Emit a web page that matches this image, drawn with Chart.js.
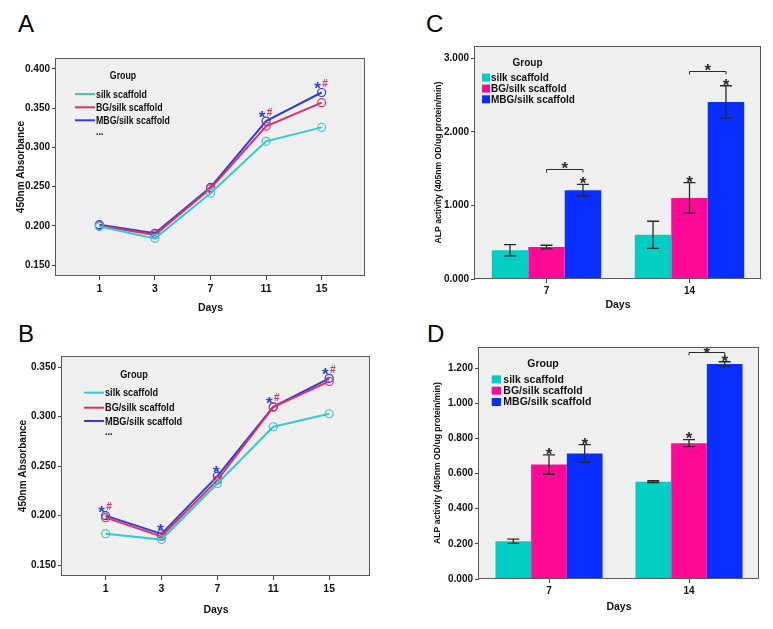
<!DOCTYPE html>
<html>
<head>
<meta charset="utf-8">
<script src="https://cdn.jsdelivr.net/npm/chart.js@4.4.1/dist/chart.umd.min.js"></script>
<style>
html, body { margin: 0; padding: 0; background: #fff; }
body { width: 773px; height: 629px; position: relative; overflow: hidden; }
canvas { position: absolute; }
.tag { position: absolute; font: 24px "Liberation Sans", Arial, sans-serif; line-height: 24px; color: #000; }
</style>
</head>
<body>
<div class="tag" style="left:18px;top:12px">A</div>
<div class="tag" style="left:18px;top:322px">B</div>
<div class="tag" style="left:426px;top:12px">C</div>
<div class="tag" style="left:427px;top:322px">D</div>
<canvas id="chartA" width="385" height="320" style="left:0;top:0"></canvas>
<canvas id="chartB" width="385" height="319" style="left:0;top:310px"></canvas>
<canvas id="chartC" width="383" height="320" style="left:390px;top:0"></canvas>
<canvas id="chartD" width="383" height="319" style="left:390px;top:310px"></canvas>
<script>
// ---- data ----
const groups = ['silk scaffold', 'BG/silk scaffold', 'MBG/silk scaffold'];
const daysLine = ['1', '3', '7', '11', '15'];
const daysBar = ['7', '14'];

// A - 450nm absorbance
const absA_silk = [0.199, 0.184, 0.2415, 0.3077, 0.3255];
const absA_bg   = [0.200, 0.1885, 0.2475, 0.327, 0.357];
const absA_mbg  = [0.2015, 0.1905, 0.249, 0.3335, 0.370];
const marksA = ['', '', '', '*#', '*#'];
const ticksA = [0.150, 0.200, 0.250, 0.300, 0.350, 0.400];

// B - 450nm absorbance
const absB_silk = [0.1818, 0.1758, 0.2325, 0.2899, 0.3030];
const absB_bg   = [0.198, 0.179, 0.236, 0.3097, 0.3357];
const absB_mbg  = [0.200, 0.1815, 0.240, 0.310, 0.3388];
const marksB = ['*#', '*', '*', '*#', '*#'];
const ticksB = [0.150, 0.200, 0.250, 0.300, 0.350];

// C - ALP activity
const alpC_silk = [0.390, 0.600];
const alpC_bg   = [0.434, 1.102];
const alpC_mbg  = [1.206, 2.407];
const errC_silk = [0.077, 0.185];
const errC_bg   = [0.025, 0.207];
const errC_mbg  = [0.080, 0.220];
const starsC = [['', ''], ['', '*'], ['*', '*']];
const bracketC = [true, true];
const ticksC = [0, 1, 2, 3];

// D - ALP activity
const alpD_silk = [0.215, 0.554];
const alpD_bg   = [0.651, 0.773];
const alpD_mbg  = [0.714, 1.223];
const errD_silk = [0.012, 0.005];
const errD_bg   = [0.055, 0.020];
const errD_mbg  = [0.050, 0.013];
const starsD = [['', ''], ['*', '*'], ['*', '*']];
const bracketD = [false, true];
const ticksD = [0, 0.2, 0.4, 0.6, 0.8, 1.0, 1.2];

// ---- look ----
const lineColors = ['#36CACA', '#E02D6E', '#2D3FCF'];
const barColors = ['#00CDC4', '#FF0A96', '#0A2EFF'];
const SANS = '"Liberation Sans", Arial, sans-serif';

// plot box: grey fill + dark frame
function framePlugin() {
    return {
        id: 'frame',
        beforeDraw(chart) {
            const { ctx, chartArea: a } = chart;
            ctx.save();
            ctx.fillStyle = '#EFEFEF';
            ctx.fillRect(a.left, a.top, a.right - a.left, a.bottom - a.top);
            ctx.restore();
        },
        afterDraw(chart) {
            const { ctx, chartArea: a } = chart;
            ctx.save();
            ctx.strokeStyle = '#5a5a5a';
            ctx.lineWidth = 1;
            ctx.strokeRect(Math.round(a.left) - 0.5, Math.round(a.top) + 0.5, Math.round(a.right - a.left), Math.round(a.bottom - a.top) - 1);
            ctx.restore();
        }
    };
}

// legend inside the plot box (sx squeezes the text like a narrow font)
function legendPlugin(cfg) {
    const sx = cfg.squeeze || 1;
    const text = (ctx, s, x, y) => {
        ctx.save();
        ctx.translate(x, y);
        ctx.scale(sx, 1);
        ctx.fillText(s, 0, 0);
        ctx.restore();
    };
    return {
        id: 'groupLegend',
        afterDraw(chart) {
            const { ctx, chartArea: a } = chart;
            ctx.save();
            ctx.fillStyle = '#111';
            ctx.font = cfg.font;
            ctx.textBaseline = 'middle';
            ctx.textAlign = 'center';
            text(ctx, 'Group', a.left + cfg.gx, a.top + cfg.gy);
            ctx.textAlign = 'left';
            chart.data.datasets.forEach((ds, i) => {
                const y = a.top + cfg.rows[i];
                if (cfg.box) {
                    ctx.fillStyle = ds.backgroundColor;
                    ctx.fillRect(a.left + cfg.sx0, y - 4, cfg.sx1 - cfg.sx0, 8);
                } else {
                    ctx.strokeStyle = ds.borderColor;
                    ctx.lineWidth = 2;
                    ctx.beginPath();
                    ctx.moveTo(a.left + cfg.sx0, y);
                    ctx.lineTo(a.left + cfg.sx1, y);
                    ctx.stroke();
                }
                ctx.fillStyle = '#111';
                text(ctx, ds.label, a.left + cfg.tx, y + 0.5);
            });
            if (cfg.dots) {
                text(ctx, '...', a.left + cfg.tx, a.top + cfg.dots);
            }
            ctx.restore();
        }
    };
}

// * and # over line points
function markPlugin(marks) {
    return {
        id: 'marks',
        afterDraw(chart) {
            const { ctx } = chart;
            const ys = chart.scales.y, xs = chart.scales.x;
            ctx.save();
            marks.forEach((m, i) => {
                if (!m) return;
                const top = Math.max(...chart.data.datasets.map(d => d.data[i].y));
                const px = xs.getPixelForValue(i);
                const py = ys.getPixelForValue(top);
                ctx.textAlign = 'center';
                ctx.textBaseline = 'alphabetic';
                if (m.includes('*')) {
                    ctx.fillStyle = '#2D3FCF';
                    ctx.font = 'bold 17px ' + SANS;
                    const dx = m.includes('#') ? -4 : -1;
                    ctx.fillText('*', px + dx, py - 8 + 0.58 * 17);
                }
                if (m.includes('#')) {
                    ctx.fillStyle = '#E02D6E';
                    ctx.font = 'bold 10px ' + SANS;
                    ctx.fillText('#', px + 3.5, py - 9 + 3.6);
                }
            });
            ctx.restore();
        }
    };
}

// error bars, stars and brackets on bar charts
function barExtrasPlugin(errs, stars, brackets, br) {
    return {
        id: 'barExtras',
        afterDatasetsDraw(chart) {
            const { ctx } = chart;
            const ys = chart.scales.y;
            ctx.save();
            ctx.strokeStyle = '#2a2a2a';
            ctx.fillStyle = '#2a2a2a';
            ctx.lineWidth = 1.3;
            const starAt = (x, cy) => {
                ctx.font = 'bold 17px ' + SANS;
                ctx.textAlign = 'center';
                ctx.textBaseline = 'alphabetic';
                ctx.fillText('*', x, cy + 0.58 * 17);
            };
            chart.data.datasets.forEach((ds, d) => {
                const meta = chart.getDatasetMeta(d);
                meta.data.forEach((el, i) => {
                    const v = ds.data[i], e = errs[d][i];
                    const yt = ys.getPixelForValue(v + e), yb = ys.getPixelForValue(v - e);
                    ctx.beginPath();
                    ctx.moveTo(el.x, yt); ctx.lineTo(el.x, yb);
                    ctx.moveTo(el.x - 6, yt); ctx.lineTo(el.x + 6, yt);
                    ctx.moveTo(el.x - 6, yb); ctx.lineTo(el.x + 6, yb);
                    ctx.stroke();
                    if (stars[d][i]) starAt(el.x, yt - 5);
                });
            });
            brackets.forEach((on, i) => {
                if (!on) return;
                const b = chart.getDatasetMeta(1).data[i], m = chart.getDatasetMeta(2).data[i];
                const top = ys.getPixelForValue(chart.data.datasets[2].data[i] + errs[2][i]) - 5;
                const y = Math.round(top - br.gap) + 0.5;
                ctx.lineWidth = 1;
                ctx.beginPath();
                ctx.moveTo(b.x, y + 3); ctx.lineTo(b.x, y); ctx.lineTo(m.x, y); ctx.lineTo(m.x, y + br.drop);
                ctx.stroke();
                starAt((b.x + m.x) / 2, y - br.lift);
            });
            ctx.restore();
        }
    };
}

function axisFont(size) { return { family: SANS, size: size, weight: 'bold' }; }

function lineChart(id, series, yTicks, yMin, yMax, xMin, xMax, lay, legendCfg, marks) {
    return new Chart(document.getElementById(id), {
        type: 'line',
        data: {
            datasets: series.map((s, k) => ({
                label: groups[k],
                data: s.map((v, i) => ({ x: i, y: v })),
                borderColor: lineColors[k],
                backgroundColor: lineColors[k],
                borderWidth: 2,
                tension: 0,
                pointRadius: 4,
                pointBorderWidth: 1.2,
                pointBackgroundColor: 'rgba(0,0,0,0)',
                pointBorderColor: lineColors[k]
            }))
        },
        options: {
            responsive: false,
            animation: false,
            devicePixelRatio: 1,
            layout: { padding: { left: 0, top: lay.top, right: lay.right, bottom: 0 } },
            plugins: { legend: { display: false }, tooltip: { enabled: false } },
            scales: {
                x: {
                    type: 'linear', min: xMin, max: xMax,
                    afterBuildTicks: s => { s.ticks = daysLine.map((d, i) => ({ value: i })); },
                    afterFit: s => { s.height = lay.xH; },
                    ticks: { callback: v => daysLine[v], font: axisFont(10.5), color: '#111', padding: 3, maxRotation: 0, autoSkip: false },
                    grid: { drawOnChartArea: false, tickLength: 4, color: '#444' },
                    border: { display: false },
                    title: { display: true, text: 'Days', font: axisFont(10.5), color: '#111', padding: { top: 0, bottom: lay.xPad } }
                },
                y: {
                    min: yMin, max: yMax,
                    afterBuildTicks: s => { s.ticks = yTicks.map(v => ({ value: v })); },
                    afterFit: s => { s.width = lay.yW; },
                    ticks: { callback: v => v.toFixed(3), font: axisFont(10), color: '#111', padding: 2 },
                    grid: { drawOnChartArea: false, tickLength: 4, color: '#444' },
                    border: { display: false },
                    title: { display: true, text: '450nm Absorbance', font: axisFont(10), color: '#111', padding: { top: lay.yPad, bottom: 0 } }
                }
            }
        },
        plugins: [framePlugin(), legendPlugin(legendCfg), markPlugin(marks)]
    });
}

function barChart(id, series, errs, stars, brackets, yTicks, yMax, lay, legendCfg, br) {
    return new Chart(document.getElementById(id), {
        type: 'bar',
        data: {
            labels: daysBar,
            datasets: series.map((s, k) => ({
                label: groups[k],
                data: s,
                backgroundColor: barColors[k],
                borderWidth: 0,
                categoryPercentage: 0.765,
                barPercentage: 1.0
            }))
        },
        options: {
            responsive: false,
            animation: false,
            devicePixelRatio: 1,
            layout: { padding: { left: 0, top: lay.top, right: lay.right, bottom: 0 } },
            plugins: { legend: { display: false }, tooltip: { enabled: false } },
            scales: {
                x: {
                    afterFit: s => { s.height = lay.xH; },
                    ticks: { font: axisFont(10), color: '#111', padding: 2, maxRotation: 0 },
                    grid: { drawOnChartArea: false, tickLength: 4, color: '#444', offset: false },
                    border: { display: false },
                    title: { display: true, text: 'Days', font: axisFont(10.5), color: '#111', padding: { top: 0, bottom: lay.xPad } }
                },
                y: {
                    min: 0, max: yMax,
                    afterBuildTicks: s => { s.ticks = yTicks.map(v => ({ value: v })); },
                    afterFit: s => { s.width = lay.yW; },
                    ticks: { callback: v => v.toFixed(3), font: axisFont(10), color: '#111', padding: 2 },
                    grid: { drawOnChartArea: false, tickLength: 4, color: '#444' },
                    border: { display: false },
                    title: { display: true, text: 'ALP activity (405nm OD/ug protein/min)', font: axisFont(8.6), color: '#111', padding: { top: lay.yPad, bottom: 0 } }
                }
            }
        },
        plugins: [framePlugin(), barExtrasPlugin(errs, stars, brackets, br), legendPlugin(legendCfg)]
    });
}

lineChart('chartA', [absA_silk, absA_bg, absA_mbg], ticksA, 0.136, 0.414, -0.78, 4.78,
    { top: 58, right: 20, xH: 44, yW: 56, xPad: 6, yPad: 15 },
    { font: 'bold 11px ' + SANS, squeeze: 0.8, gx: 67, gy: 18, sx0: 19, sx1: 39, tx: 40, rows: [36, 49.3, 62.3], dots: 74 },
    marksA);

lineChart('chartB', [absB_silk, absB_bg, absB_mbg], ticksB, 0.139, 0.3614, -0.78, 4.73,
    { top: 46, right: 15, xH: 53, yW: 62, xPad: 13, yPad: 17 },
    { font: 'bold 11.5px ' + SANS, squeeze: 0.8, gx: 72, gy: 19, sx0: 22, sx1: 42, tx: 43, rows: [36.7, 51.7, 65], dots: 76 },
    marksB);

barChart('chartC', [alpC_silk, alpC_bg, alpC_mbg], [errC_silk, errC_bg, errC_mbg], starsC, bracketC, ticksC, 3.167,
    { top: 46, right: 12, xH: 41, yW: 85, xPad: 9, yPad: 43 },
    { font: 'bold 10px ' + SANS, box: true, gx: 52.5, gy: 17, sx0: 7, sx1: 15, tx: 16, rows: [31.6, 42.6, 53.3] },
    { gap: 10, drop: 3, lift: 5.5 });

barChart('chartD', [alpD_silk, alpD_bg, alpD_mbg], [errD_silk, errD_bg, errD_mbg], starsD, bracketD, ticksD, 1.32,
    { top: 37, right: 14, xH: 50, yW: 89, xPad: 16, yPad: 42 },
    { font: 'bold 10.5px ' + SANS, box: true, gx: 64, gy: 16.7, sx0: 12.7, sx1: 22, tx: 24.3, rows: [32.4, 43.7, 55] },
    { gap: 4.5, drop: 4, lift: 3.5 });
</script>
</body>
</html>
